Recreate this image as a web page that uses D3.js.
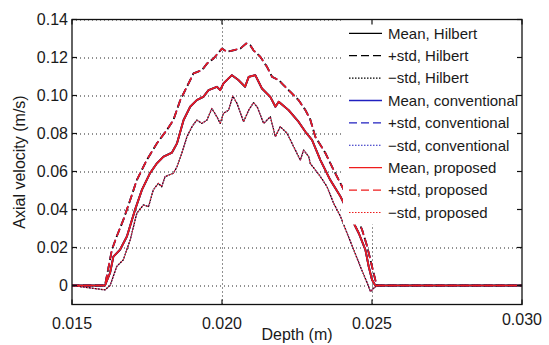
<!DOCTYPE html>
<html>
<head>
<meta charset="utf-8">
<script src="https://cdn.jsdelivr.net/npm/d3@7"></script>
<style>
  body { margin: 0; background: #fff; }
  text { font-family: "Liberation Sans", Arial, sans-serif; fill: #1a1a1a; }
</style>
</head>
<body>
<svg width="549" height="345"></svg>
<script>
// Depth (m) / axial velocity (m/s) pairs
const meanCurve = [
  [0.0150, 0], [0.01610, 0], [0.01627, 0.0067], [0.01638, 0.0152], [0.01660, 0.0188],
  [0.01683, 0.0258], [0.01710, 0.0398], [0.01733, 0.0503], [0.01760, 0.0591],
  [0.01783, 0.0643], [0.01805, 0.0678], [0.01833, 0.0699], [0.01850, 0.0748],
  [0.01872, 0.0871], [0.01894, 0.0941], [0.01916, 0.0976], [0.01938, 0.0993],
  [0.01955, 0.1028], [0.01983, 0.1046], [0.01994, 0.1028], [0.02005, 0.1064],
  [0.02033, 0.1107], [0.02055, 0.1081], [0.02077, 0.1046], [0.02089, 0.1098],
  [0.02111, 0.1107], [0.02133, 0.1037], [0.02161, 0.0993], [0.02178, 0.0941],
  [0.02189, 0.0967], [0.02222, 0.0923], [0.02255, 0.0862], [0.02278, 0.0809],
  [0.02300, 0.0766], [0.02328, 0.0660], [0.02361, 0.0555], [0.02395, 0.0468],
  [0.02428, 0.0363], [0.02456, 0.0275], [0.02478, 0.0188], [0.02489, 0.0100],
  [0.02500, 0.0030], [0.02511, 0], [0.0300, 0]
];
const plusCurve = [
  [0.0150, 0], [0.01610, 0], [0.01633, 0.0188], [0.01649, 0.0258], [0.01671, 0.0345],
  [0.01694, 0.0450], [0.01716, 0.0555], [0.01749, 0.0660], [0.01783, 0.0748],
  [0.01816, 0.0818], [0.01838, 0.0871], [0.01861, 0.0976], [0.01883, 0.1046],
  [0.01905, 0.1116], [0.01933, 0.1133], [0.01950, 0.1168], [0.01972, 0.1195],
  [0.02000, 0.1247], [0.02016, 0.1230], [0.02038, 0.1238], [0.02061, 0.1247],
  [0.02081, 0.1274], [0.02094, 0.1265], [0.02105, 0.1238], [0.02128, 0.1203],
  [0.02150, 0.1151], [0.02167, 0.1098], [0.02189, 0.1081], [0.02205, 0.1055],
  [0.02228, 0.1019], [0.02255, 0.0976], [0.02278, 0.0923], [0.02294, 0.0875],
  [0.02311, 0.0783], [0.02345, 0.0696], [0.02372, 0.0608], [0.02406, 0.0503],
  [0.02439, 0.0398], [0.02467, 0.0293], [0.02484, 0.0205], [0.02500, 0.0100],
  [0.02511, 0.0030], [0.02517, 0], [0.0300, 0]
];
const minusCurve = [
  [0.0150, 0], [0.01610, -0.0023], [0.01627, 0], [0.01649, 0.0100], [0.01671, 0.0135],
  [0.01694, 0.0240], [0.01716, 0.0380], [0.01738, 0.0424], [0.01755, 0.0415],
  [0.01771, 0.0503], [0.01788, 0.0538], [0.01799, 0.0520], [0.01810, 0.0573],
  [0.01838, 0.0591], [0.01850, 0.0625], [0.01866, 0.0696], [0.01883, 0.0783],
  [0.01900, 0.0836], [0.01916, 0.0871], [0.01933, 0.0853], [0.01950, 0.0871],
  [0.01966, 0.0932], [0.01983, 0.0888], [0.01994, 0.0853], [0.02005, 0.0906],
  [0.02022, 0.0923], [0.02036, 0.0997], [0.02050, 0.0958], [0.02072, 0.0862],
  [0.02089, 0.0923], [0.02105, 0.0962], [0.02117, 0.0941], [0.02139, 0.0853],
  [0.02161, 0.0888], [0.02178, 0.0783], [0.02194, 0.0836], [0.02217, 0.0801],
  [0.02239, 0.0730], [0.02261, 0.0660], [0.02272, 0.0713], [0.02289, 0.0678],
  [0.02294, 0.0643], [0.02328, 0.0573], [0.02350, 0.0520], [0.02372, 0.0433],
  [0.02395, 0.0363], [0.02417, 0.0275], [0.02439, 0.0188], [0.02461, 0.0100],
  [0.02484, 0.0013], [0.02495, -0.0032], [0.02506, -0.0014], [0.02517, 0], [0.0300, 0]
];

const methods = ['Hilbert', 'conventional', 'proposed'];
const methodColors = ['#000000', '#2020c0', '#ee1c1c'];
const stats = ['Mean', '+std', '\u2212std'];
const xTicks = [0.015, 0.020, 0.025, 0.030];
const yTicks = [0, 0.02, 0.04, 0.06, 0.08, 0.10, 0.12, 0.14];

const svg = d3.select('svg');
const margin = { left: 72, right: 27, top: 19.5, bottom: 40.5 };
const width = 549 - margin.left - margin.right;
const height = 345 - margin.top - margin.bottom;

const x = d3.scaleLinear().domain([0.015, 0.030]).range([0, width]);
const y = d3.scaleLinear().domain([-0.01, 0.14]).range([height, 0]);

const chart = svg.append('g').attr('transform', `translate(${margin.left},${margin.top})`);

// Dotted grid
const grid = chart.append('g')
    .attr('stroke', '#222')
    .attr('stroke-width', 1)
    .attr('stroke-dasharray', '1,3');
grid.selectAll('.gy').data(yTicks).join('line')
    .attr('x1', 0).attr('x2', width)
    .attr('y1', d => Math.round(y(d)) + 0.5).attr('y2', d => Math.round(y(d)) + 0.5);
grid.selectAll('.gx').data(xTicks.slice(1, -1)).join('line')
    .attr('x1', d => Math.round(x(d)) + 0.5).attr('x2', d => Math.round(x(d)) + 0.5)
    .attr('y1', 0).attr('y2', height);

// Curves (one set per method, proposed drawn last)
const line = d3.line().x(d => x(d[0])).y(d => y(d[1]));
const curves = [meanCurve, plusCurve, minusCurve];
const styles = [
  { dash: null, w: 1.7 },
  { dash: '8,4', w: 1.6 },
  { dash: '1.5,1.5', w: 1.1 }
];
methods.forEach((m, mi) => {
  curves.forEach((c, ci) => {
    chart.append('path')
        .datum(c)
        .attr('d', line)
        .attr('fill', 'none')
        .attr('stroke', methodColors[mi])
        .attr('stroke-width', mi === 0 ? styles[ci].w + 0.2 : styles[ci].w)
        .attr('stroke-dasharray', styles[ci].dash)
        .attr('stroke-dashoffset', mi === 0 ? 1 : 0)
        .attr('stroke-linejoin', 'round');
  });
});

// Legend
const legend = chart.append('g');
legend.append('rect')
    .attr('x', 271).attr('y', 0)
    .attr('width', width - 271).attr('height', 205)
    .attr('fill', '#fff');
const rows = [];
methods.forEach((m, mi) => stats.forEach((s, si) => rows.push({ label: `${s}, ${m}`, mi, si })));
const item = legend.selectAll('g.item').data(rows).join('g')
    .attr('transform', (d, i) => `translate(277,${13.8 + i * 22.4})`);
item.append('line')
    .attr('x1', 0).attr('x2', 33)
    .attr('stroke', d => methodColors[d.mi])
    .attr('stroke-width', d => d.si === 2 ? 1.1 : 1.3)
    .attr('stroke-dasharray', d => styles[d.si].dash);
item.append('text')
    .attr('x', 39).attr('dy', '0.35em')
    .style('font-size', '15px')
    .text(d => d.label);

// Frame with inward ticks
chart.append('rect')
    .attr('x', 0).attr('y', 0).attr('width', width).attr('height', height)
    .attr('fill', 'none').attr('stroke', '#111').attr('stroke-width', 1.3);
const tickLen = 5;
const ticks = chart.append('g').attr('stroke', '#111').attr('stroke-width', 1.2);
xTicks.forEach(t => {
  ticks.append('line').attr('x1', x(t)).attr('x2', x(t)).attr('y1', height).attr('y2', height - tickLen);
  ticks.append('line').attr('x1', x(t)).attr('x2', x(t)).attr('y1', 0).attr('y2', tickLen);
});
yTicks.forEach(t => {
  ticks.append('line').attr('x1', 0).attr('x2', tickLen).attr('y1', y(t)).attr('y2', y(t));
  ticks.append('line').attr('x1', width).attr('x2', width - tickLen).attr('y1', y(t)).attr('y2', y(t));
});

// Tick labels
chart.selectAll('.xl').data(xTicks).join('text')
    .attr('x', d => x(d))
    .attr('y', d => d === 0.030 ? height + 20 : height + 24)
    .attr('text-anchor', 'middle')
    .style('font-size', '16px')
    .text(d => d3.format('.3f')(d));
chart.selectAll('.yl').data(yTicks).join('text')
    .attr('x', -4)
    .attr('y', d => y(d))
    .attr('dy', '0.35em')
    .attr('text-anchor', 'end')
    .style('font-size', '16px')
    .text(d => d === 0 ? '0' : d3.format('.2f')(d));

// Axis titles
svg.append('text')
    .attr('x', margin.left + width / 2).attr('y', 340)
    .attr('text-anchor', 'middle')
    .style('font-size', '16px')
    .text('Depth (m)');
svg.append('text')
    .attr('transform', `translate(25,${margin.top + height / 2}) rotate(-90)`)
    .attr('text-anchor', 'middle')
    .style('font-size', '16px')
    .text('Axial velocity (m/s)');
</script>
</body>
</html>
